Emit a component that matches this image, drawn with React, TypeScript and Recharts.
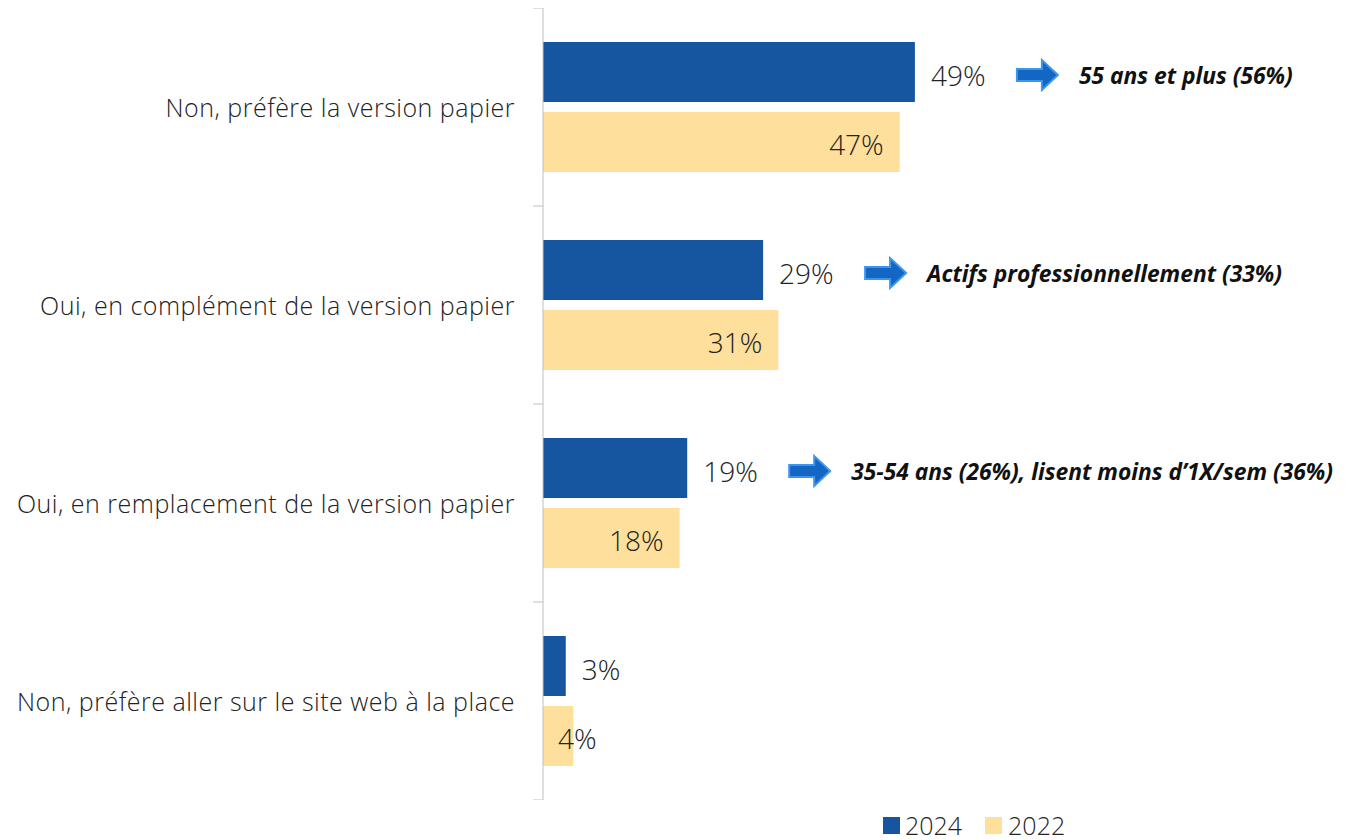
import { BarChart, Bar, XAxis, YAxis, LabelList } from 'recharts'

const categories = [
  'Non, préfère la version papier',
  'Oui, en complément de la version papier',
  'Oui, en remplacement de la version papier',
  'Non, préfère aller sur le site web à la place',
]
const values2024 = [49, 29, 19, 3]
const values2022 = [47, 31, 18, 4]
const notes = [
  '55 ans et plus (56%)',
  'Actifs professionnellement (33%)',
  '35-54 ans (26%), lisent moins d’1X/sem (36%)',
  '',
]
const seriesNames = ['2024', '2022']

const BLUE = '#1656a0'
const YELLOW = '#fedf9b'
const AXIS = '#bfbfbf'
const FONT = '"Open Sans", sans-serif'

const W = 1336
const PLOT_H = 792
const AXIS_X = 535
const BAND = PLOT_H / categories.length

const data = categories.map((name, i) => ({
  name,
  y2024: values2024[i],
  y2022: values2022[i],
}))

const CategoryTick = (props: any) => {
  const { x, y, payload, index } = props
  return (
    <g>
      <line x1={AXIS_X - 10} x2={AXIS_X} y1={y - BAND / 2} y2={y - BAND / 2} stroke={AXIS} />
      {index === categories.length - 1 && (
        <line x1={AXIS_X - 10} x2={AXIS_X} y1={y + BAND / 2} y2={y + BAND / 2} stroke={AXIS} />
      )}
      <text
        x={x}
        y={y}
        textAnchor="end"
        dominantBaseline="central"
        fontSize={25}
        letterSpacing={0.5}
        fill="#222"
        fontFamily={FONT}
        fontWeight={300}
      >
        {payload.value}
      </text>
    </g>
  )
}

const Label2024 = (props: any) => {
  const { x, y, width, height, value, index } = props
  const end = x + width
  const cy = y + height / 2 + 3
  const note = notes[index]
  const ax = end + 102
  return (
    <g>
      <text x={end + 16} y={cy} dominantBaseline="central" fontSize={28} fill="#222" fontFamily={FONT} fontWeight={300}>
        {value}%
      </text>
      {note && (
        <g>
          <polygon
            points={`${ax},${cy - 6} ${ax + 25},${cy - 6} ${ax + 25},${cy - 15} ${ax + 41},${cy} ${ax + 25},${cy + 15} ${ax + 25},${cy + 6} ${ax},${cy + 6}`}
            fill="#1466c4"
            stroke="#3d95ee"
            strokeWidth={2}
          />
          <text
            x={ax + 62}
            y={cy}
            dominantBaseline="central"
            fontSize={22.8}
            fontStyle="italic"
            fontWeight={700}
            fill="#111"
            fontFamily={FONT}
          >
            {note}
          </text>
        </g>
      )}
    </g>
  )
}

const Label2022 = (props: any) => {
  const { x, y, width, height, value } = props
  const end = x + width
  const cy = y + height / 2 + 2
  const fits = width > 80
  return (
    <text
      x={fits ? end - 16 : x + 15}
      y={cy}
      textAnchor={fits ? 'end' : 'start'}
      dominantBaseline="central"
      fontSize={28}
      fill="#222"
      fontFamily={FONT}
      fontWeight={300}
    >
      {value}%
    </text>
  )
}

export default function App() {
  return (
    <div style={{ width: W, height: 830, position: 'relative' }}>
      <BarChart
        width={W}
        height={PLOT_H}
        data={data}
        layout="vertical"
        margin={{ top: 0, right: 42, left: 0, bottom: 0 }}
        barSize={60}
        barGap={10}
      >
        <XAxis type="number" domain={[0, 100]} hide />
        <YAxis
          type="category"
          dataKey="name"
          width={AXIS_X}
          axisLine={{ stroke: AXIS }}
          tickLine={false}
          tickSize={0}
          tickMargin={28}
          tick={<CategoryTick />}
          interval={0}
        />
        <Bar dataKey="y2024" name={seriesNames[0]} fill={BLUE} isAnimationActive={false}>
          <LabelList dataKey="y2024" content={<Label2024 />} />
        </Bar>
        <Bar dataKey="y2022" name={seriesNames[1]} fill={YELLOW} isAnimationActive={false}>
          <LabelList dataKey="y2022" content={<Label2022 />} />
        </Bar>
      </BarChart>
      <div
        style={{
          position: 'absolute',
          left: 875,
          top: 805,
          display: 'flex',
          alignItems: 'center',
          fontFamily: FONT,
          fontWeight: 300,
          fontSize: 25,
          lineHeight: '24px',
          color: '#222',
        }}
      >
        <span style={{ width: 17, height: 17, background: BLUE, marginRight: 5, display: 'inline-block' }} />
        <span style={{ marginRight: 23 }}>{seriesNames[0]}</span>
        <span style={{ width: 17, height: 17, background: YELLOW, marginRight: 6, display: 'inline-block' }} />
        <span>{seriesNames[1]}</span>
      </div>
    </div>
  )
}
